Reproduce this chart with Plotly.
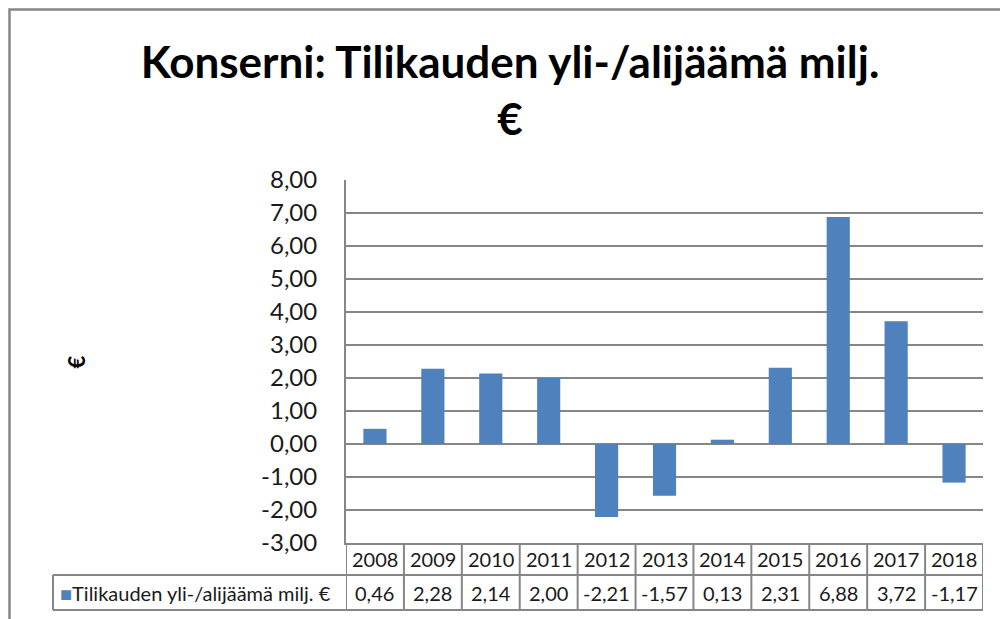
import plotly.graph_objects as go

years = ["2008", "2009", "2010", "2011", "2012", "2013", "2014", "2015", "2016", "2017", "2018"]
values = [0.46, 2.28, 2.14, 2.00, -2.21, -1.57, 0.13, 2.31, 6.88, 3.72, -1.17]
y_ticks = [-3, -2, -1, 0, 1, 2, 3, 4, 5, 6, 7, 8]
series_name = "Tilikauden yli-/alijäämä milj. €"
title_text = "Konserni: Tilikauden yli-/alijäämä milj.<br>€"
y_title = "€"

BLUE = "#4F81BD"
GRID = "#868686"
FONT = "Lato"

W, H = 1000, 619
L, R, T, B = 346, 17, 180, 76
pw, ph = W - L - R, H - T - B

def px_x(p):
    return (p - L) / pw

def px_y(p):
    return (H - B - p) / ph

def fi(v):
    return f"{v:.2f}".replace(".", ",")

idx = list(range(len(years)))

fig = go.Figure()
fig.add_trace(go.Bar(x=idx, y=values, marker=dict(color=BLUE, line=dict(width=0)),
                     name=series_name, showlegend=False, hoverinfo="skip"))

row1_bot = px_y(575)
row2_bot = px_y(610)
leg_left = px_x(53)

shapes = []
# outer chart border
shapes.append(dict(type="rect", xref="paper", yref="paper", x0=px_x(9.5), x1=px_x(1010),
                   y0=px_y(630), y1=px_y(9.5), line=dict(color=GRID, width=2.5)))
# table vertical lines (category boundaries)
for i in range(len(years) + 1):
    shapes.append(dict(type="line", xref="x", yref="paper", x0=i - 0.5, x1=i - 0.5,
                       y0=0, y1=row2_bot, line=dict(color=GRID, width=2)))
# legend cell left border
shapes.append(dict(type="line", xref="paper", yref="paper", x0=leg_left, x1=leg_left,
                   y0=row1_bot, y1=row2_bot, line=dict(color=GRID, width=2)))
# horizontal table lines
shapes.append(dict(type="line", xref="paper", yref="paper", x0=leg_left, x1=1,
                   y0=row1_bot, y1=row1_bot, line=dict(color=GRID, width=2)))
shapes.append(dict(type="line", xref="paper", yref="paper", x0=leg_left, x1=1,
                   y0=row2_bot, y1=row2_bot, line=dict(color=GRID, width=2)))

TXT = "#1a1a1a"
annotations = []
for i, (yr, v) in enumerate(zip(years, values)):
    annotations.append(dict(x=i, y=(0 + row1_bot) / 2, xref="x", yref="paper", text=yr,
                            showarrow=False, font=dict(family=FONT, size=20, color=TXT),
                            xanchor="center", yanchor="middle"))
    annotations.append(dict(x=i, y=(row1_bot + row2_bot) / 2, xref="x", yref="paper",
                            text=fi(v),
                            showarrow=False, font=dict(family=FONT, size=20, color=TXT),
                            xanchor="center", yanchor="middle"))
annotations.append(dict(x=px_x(58), y=(row1_bot + row2_bot) / 2, xref="paper", yref="paper",
                        text=f"<span style='color:{BLUE}'>■</span>{series_name}",
                        showarrow=False, font=dict(family=FONT, size=20, color=TXT),
                        xanchor="left", yanchor="middle"))
annotations.append(dict(x=px_x(60), y=px_y(362), xref="paper", yref="paper", text=y_title,
                        textangle=-90, showarrow=False,
                        font=dict(family=FONT, size=22, color="#000", weight="bold")))

fig.update_layout(
    width=W, height=H,
    margin=dict(l=L, r=R, t=T, b=B),
    paper_bgcolor="white", plot_bgcolor="white",
    bargap=0.6,
    hovermode=False,
    title=dict(text=title_text, x=510 / W, xanchor="center", y=1 - 78 / H, yanchor="middle",
               font=dict(family=FONT, size=44, color="#000", weight="bold")),
    xaxis=dict(range=[-0.5, len(years) - 0.5], showticklabels=False, showgrid=False,
               zeroline=False, showline=True, linecolor=GRID, linewidth=2, ticks=""),
    yaxis=dict(range=[-3, 8], tickmode="array", tickvals=y_ticks,
               ticktext=[fi(t) for t in y_ticks], showgrid=True,
               gridcolor=GRID, gridwidth=2, zeroline=False, showline=True, linecolor=GRID,
               linewidth=2, ticks="", ticklabelstandoff=22,
               tickfont=dict(family=FONT, size=24, color=TXT)),
    shapes=shapes,
    annotations=annotations,
)

fig.write_html("out.html", config={"displayModeBar": False, "staticPlot": True},
               post_script="document.body.style.margin='0';")
